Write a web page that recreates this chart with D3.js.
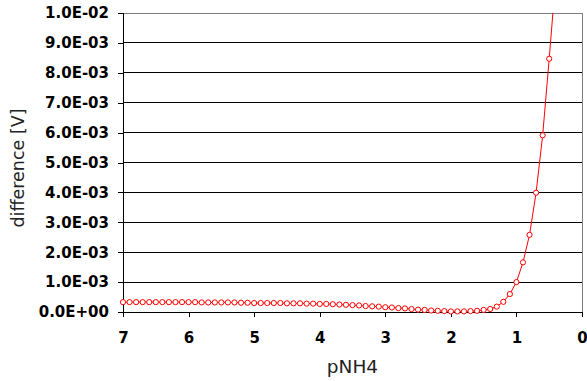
<!DOCTYPE html>
<html>
<head>
<meta charset="utf-8">
<script src="https://cdn.jsdelivr.net/npm/d3@7"></script>
<style>
  body { margin: 0; background: #fff; }
  svg { display: block; }
</style>
</head>
<body>
<svg id="chart"></svg>
<script>
const width = 587;
const height = 381;
const margin = { top: 13, right: 5, bottom: 69, left: 123 };

// pNH4 values (0.1 steps) and difference in V
const pNH4 = [7.0, 6.9, 6.8, 6.7, 6.6, 6.5, 6.4, 6.3, 6.2, 6.1,
  6.0, 5.9, 5.8, 5.7, 5.6, 5.5, 5.4, 5.3, 5.2, 5.1,
  5.0, 4.9, 4.8, 4.7, 4.6, 4.5, 4.4, 4.3, 4.2, 4.1,
  4.0, 3.9, 3.8, 3.7, 3.6, 3.5, 3.4, 3.3, 3.2, 3.1,
  3.0, 2.9, 2.8, 2.7, 2.6, 2.5, 2.4, 2.3, 2.2, 2.1,
  2.0, 1.9, 1.8, 1.7, 1.6, 1.5, 1.4, 1.3, 1.2, 1.1,
  1.0, 0.9, 0.8, 0.7, 0.6, 0.5, 0.4];
const difference = [0.33e-3, 0.33e-3, 0.33e-3, 0.33e-3, 0.33e-3, 0.33e-3, 0.33e-3, 0.33e-3, 0.33e-3, 0.33e-3,
  0.33e-3, 0.33e-3, 0.32e-3, 0.32e-3, 0.32e-3, 0.32e-3, 0.32e-3, 0.32e-3, 0.31e-3, 0.31e-3,
  0.30e-3, 0.30e-3, 0.30e-3, 0.30e-3, 0.30e-3, 0.29e-3, 0.29e-3, 0.29e-3, 0.28e-3, 0.28e-3,
  0.27e-3, 0.27e-3, 0.26e-3, 0.25e-3, 0.24e-3, 0.23e-3, 0.22e-3, 0.20e-3, 0.19e-3, 0.18e-3,
  0.16e-3, 0.15e-3, 0.13e-3, 0.12e-3, 0.10e-3, 0.08e-3, 0.07e-3, 0.05e-3, 0.04e-3, 0.03e-3,
  0.02e-3, 0.02e-3, 0.02e-3, 0.03e-3, 0.04e-3, 0.07e-3, 0.10e-3, 0.18e-3, 0.34e-3, 0.60e-3,
  1.00e-3, 1.66e-3, 2.58e-3, 3.99e-3, 5.91e-3, 8.47e-3, 11.2e-3];
const xTicks = [7, 6, 5, 4, 3, 2, 1, 0];
const yTicks = [0, 1e-3, 2e-3, 3e-3, 4e-3, 5e-3, 6e-3, 7e-3, 8e-3, 9e-3, 1e-2];

const data = pNH4.map((p, i) => ({ p: p, v: difference[i] }));

const svg = d3.select("#chart")
  .attr("width", width)
  .attr("height", height);

const x = d3.scaleLinear().domain([7, 0]).range([margin.left, width - margin.right]);
const y = d3.scaleLinear().domain([0, 1e-2]).range([height - margin.bottom, margin.top]);

const fmt = d => d.toExponential(1).toUpperCase().replace(/E([+-])(\d)$/, "E$10$2");

// gridlines
svg.append("g")
  .selectAll("line")
  .data(yTicks.slice(1))
  .enter()
  .append("line")
  .attr("x1", x(7))
  .attr("x2", x(0))
  .attr("y1", d => y(d))
  .attr("y2", d => y(d))
  .attr("stroke", (d, i) => i === yTicks.length - 2 ? "#808080" : "#000")
  .attr("stroke-width", 1)
  .attr("shape-rendering", "crispEdges");

// right border
svg.append("line")
  .attr("x1", x(0)).attr("x2", x(0))
  .attr("y1", y(0)).attr("y2", y(1e-2))
  .attr("stroke", "#808080")
  .attr("shape-rendering", "crispEdges");

// axes
const yAxis = svg.append("g")
  .attr("transform", `translate(${x(7)},0)`)
  .call(d3.axisLeft(y).tickValues(yTicks).tickFormat(fmt).tickSize(5).tickPadding(9));

const xAxis = svg.append("g")
  .attr("transform", `translate(0,${y(0)})`)
  .call(d3.axisBottom(x).tickValues(xTicks).tickFormat(d3.format("d")).tickSize(5).tickPadding(15));

[yAxis, xAxis].forEach(a => {
  a.attr("font-size", null).attr("font-family", null);
  a.select(".domain").attr("stroke", "#000").attr("shape-rendering", "crispEdges");
  a.selectAll(".tick line").attr("stroke", "#000").attr("shape-rendering", "crispEdges");
  a.selectAll("text")
    .style("font-family", "'DejaVu Sans', Verdana, sans-serif")
    .style("font-size", "15px")
    .style("font-weight", "bold")
    .attr("fill", "#000");
});

// clip to plot area
svg.append("clipPath")
  .attr("id", "plot-clip")
  .append("rect")
  .attr("x", x(7) - 4)
  .attr("y", y(1e-2))
  .attr("width", x(0) - x(7) + 4)
  .attr("height", y(0) - y(1e-2) + 4);

const plot = svg.append("g").attr("clip-path", "url(#plot-clip)");

const line = d3.line().x(d => x(d.p)).y(d => y(d.v));

plot.append("path")
  .datum(data)
  .attr("fill", "none")
  .attr("stroke", "#ff0000")
  .attr("stroke-width", 1)
  .attr("d", line);

plot.selectAll("circle")
  .data(data.filter(d => d.v <= 1e-2))
  .enter()
  .append("circle")
  .attr("cx", d => x(d.p))
  .attr("cy", d => y(d.v))
  .attr("r", 2.6)
  .attr("fill", "#fff")
  .attr("stroke", "#ff0000")
  .attr("stroke-width", 1);

// axis titles
svg.append("text")
  .attr("x", (x(7) + x(0)) / 2)
  .attr("y", 373)
  .attr("text-anchor", "middle")
  .style("font-family", "'DejaVu Sans', Verdana, sans-serif")
  .style("font-size", "18.5px")
  .attr("fill", "#222")
  .text("pNH4");

svg.append("text")
  .attr("transform", `translate(24,168) rotate(-90)`)
  .attr("text-anchor", "middle")
  .style("font-family", "'DejaVu Sans', Verdana, sans-serif")
  .style("font-size", "17.5px")
  .attr("fill", "#222")
  .text("difference [V]");
</script>
</body>
</html>
